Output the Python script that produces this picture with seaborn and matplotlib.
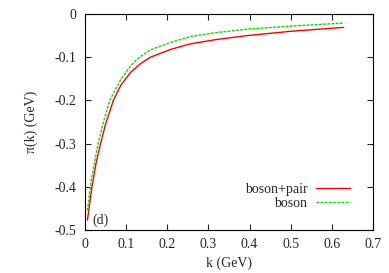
import pandas as pd
import matplotlib.pyplot as plt
import seaborn as sns

# values
k_pair = [0.006, 0.017, 0.027, 0.038, 0.050, 0.069, 0.087, 0.111, 0.135, 0.159, 0.208, 0.257, 0.320, 0.394, 0.500, 0.628]
pi_pair = [-0.477, -0.400, -0.345, -0.300, -0.255, -0.200, -0.165, -0.135, -0.115, -0.100, -0.082, -0.069, -0.059, -0.050, -0.040, -0.031]

k_boson = [0.006, 0.015, 0.032, 0.045, 0.060, 0.087, 0.111, 0.131, 0.159, 0.208, 0.257, 0.320, 0.394, 0.500, 0.628]
pi_boson = [-0.455, -0.385, -0.300, -0.250, -0.200, -0.152, -0.120, -0.101, -0.083, -0.066, -0.052, -0.043, -0.035, -0.028, -0.021]

df = pd.concat([
    pd.DataFrame({'k': k_pair, 'pi': pi_pair, 'model': 'boson+pair'}),
    pd.DataFrame({'k': k_boson, 'pi': pi_boson, 'model': 'boson'}),
])

sns.set_style('ticks')
plt.rcParams['font.family'] = ['Liberation Serif', 'DejaVu Serif']
plt.rcParams['font.size'] = 10

fig = plt.figure(figsize=(3.89, 2.73), dpi=100)
ax = fig.add_axes([0.2185, 0.1575, 0.7405, 0.7912])

sns.lineplot(data=df, x='k', y='pi', hue='model', style='model',
             palette={'boson+pair': '#ff0000', 'boson': '#00dd00'},
             dashes={'boson+pair': '', 'boson': (2, 1)},
             linewidth=1.0, ax=ax)

ax.set_xlim(0, 0.7)
ax.set_ylim(-0.5, 0)
ax.set_xticks([0, 0.1, 0.2, 0.3, 0.4, 0.5, 0.6, 0.7])
ax.set_xticklabels(['0', '0.1', '0.2', '0.3', '0.4', '0.5', '0.6', '0.7'])
ax.set_yticks([0, -0.1, -0.2, -0.3, -0.4, -0.5])
ax.set_yticklabels(['0', '-0.1', '-0.2', '-0.3', '-0.4', '-0.5'])
ax.tick_params(direction='in', length=4, width=0.8, top=True, right=True, pad=6, labelsize=10)
for s in ax.spines.values():
    s.set_linewidth(0.8)
    s.set_color('black')

ax.set_xlabel('k (GeV)', fontsize=10, labelpad=4)
ax.set_ylabel('π(k) (GeV)', fontsize=10, labelpad=12)
ax.text(0.019, -0.477, '(d)', fontsize=10, va='center', ha='left')

ax.legend(loc='lower right', bbox_to_anchor=(0.965, 0.035), frameon=False, markerfirst=False,
          fontsize=10, handlelength=2.5, handletextpad=0.6, labelspacing=0.05)

plt.savefig('out.png', dpi=100)
